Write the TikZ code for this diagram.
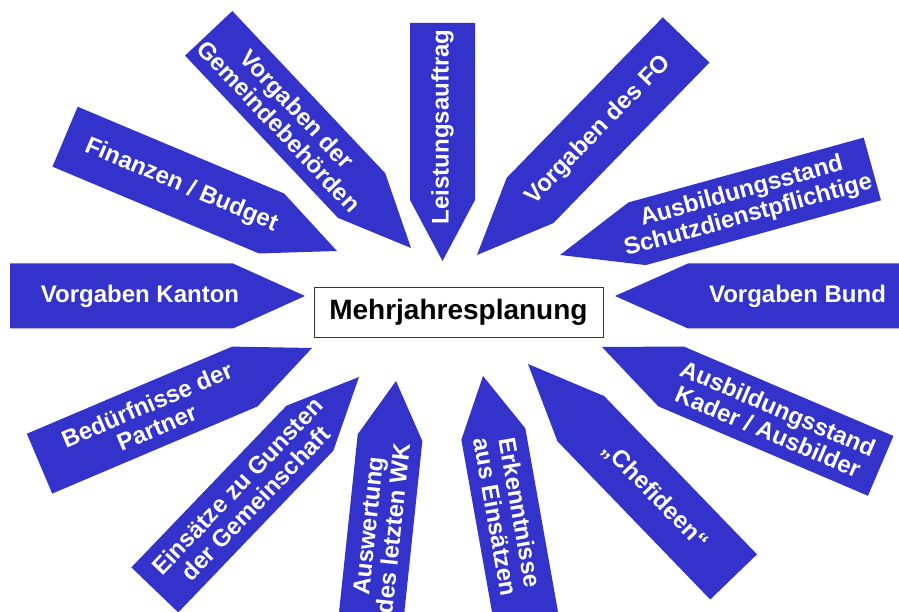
\documentclass[tikz,border=0pt]{standalone}
\usepackage{fontspec}
\setmainfont{Liberation Sans}

\definecolor{planblue}{RGB}{51,51,204}

\begin{document}
\begin{tikzpicture}[x=1pt, y=1pt,
    infotext/.style={text=white, align=center, inner sep=0pt,
      font=\bfseries\fontsize{24}{25}\selectfont},
    hubbox/.style={draw=black!80, fill=white, line width=0.8pt,
      minimum width=289pt, minimum height=50pt,
      font=\bfseries\fontsize{28}{32}\selectfont}]

    \useasboundingbox (0,0) rectangle (899,612);
    \clip (0,0) rectangle (899,612);

    % arrows: tip x / tip y / direction / head / length / text position / text angle / text
    \foreach \tx/\ty/\dir/\hd/\len/\pos/\rot/\txt [count=\i] in {
        305/316/180/72/295/165/0/{Vorgaben Kanton},
        615/316/0/73/300/182.5/0/{Vorgaben Bund},
        442.5/351/90/61/238/134/90/{Leistungsauftrag},
        411/364/133.3/72/295/179/-46.7/{Vorgaben der\\Gemeindebehörden},
        337/361/157.2/71/295/169/-22.8/{Finanzen / Budget},
        477/357/45.8/76/300/174/45.8/{Vorgaben des FO},
        560/357/15.4/80/324/192/15.4/{Ausbildungsstand\\Schutzdienstpflichtige},
        602/265/-23.1/75/303/186/-23.1/{Ausbildungsstand\\Kader / Ausbilder},
        528/248/-46/76/296/183/-46/{„Chefideen“},
        483/236/-79.9/59/280/141/-79.9/{Erkenntnisse\\aus Einsätzen},
        396/231/-96/57/280/147/84/{Auswertung\\des letzten WK},
        359/235/-133.8/71/295/163/46.2/{Einsätze zu Gunsten\\der Gemeinschaft},
        312/264/-157/73/296/174/23/{Bedürfnisse der\\Partner}}{
        \begin{scope}[shift={(\tx,\ty)}, rotate=\dir]
            \fill[planblue] (0,0) -- (\hd,32.5) -- (\len,32.5) -- (\len,-32.5) -- (\hd,-32.5) -- cycle;
            \node[infotext, rotate=\rot] (input\i) at (\pos,0) {\txt};
        \end{scope}
    }

    % center box
    \node[hubbox] (plan) at (458.4,299.5) {Mehrjahresplanung};

\end{tikzpicture}
\end{document}
